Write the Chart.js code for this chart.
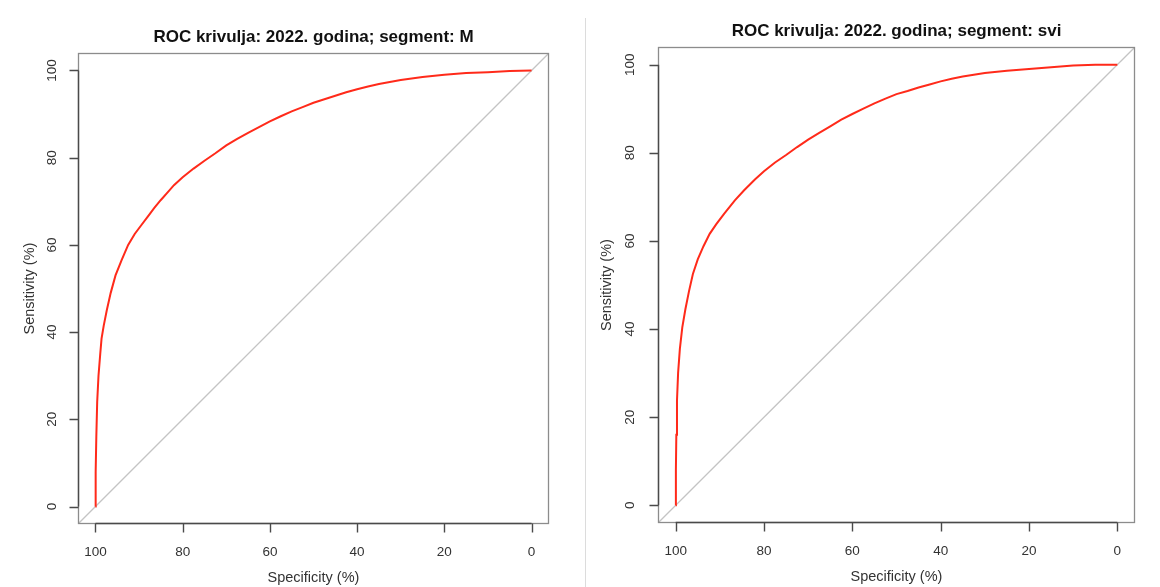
<!DOCTYPE html>
<html>
<head>
<meta charset="utf-8">
<script src="https://cdn.jsdelivr.net/npm/chart.js@4.4.1/dist/chart.umd.min.js"></script>
<style>
  html, body { margin: 0; padding: 0; background: #fff; }
  #wrap { position: relative; width: 1160px; height: 587px; overflow: hidden; }
  canvas { position: absolute; top: 0; }
  #sep { position: absolute; left: 585px; top: 18px; width: 1px; height: 569px; background: #dcdcdc; }
</style>
</head>
<body>
<div id="wrap">
  <canvas id="chartM" width="585" height="587" style="left:0"></canvas>
  <div id="sep"></div>
  <canvas id="chartAll" width="573" height="587" style="left:587px"></canvas>
</div>
<script>
// --- DATA ---
const titleM = 'ROC krivulja: 2022. godina; segment: M';
const titleAll = 'ROC krivulja: 2022. godina; segment: svi';
const xTitle = 'Specificity (%)';
const yTitle = 'Sensitivity (%)';
const tickVals = [0, 20, 40, 60, 80, 100];

// segment M
const specM = [100, 99.95, 99.8, 99.6, 99.3, 98.9, 98.6, 98.1, 97.4, 96.5, 95.4, 94.0, 92.5, 91.0, 89.5, 88.0, 86.5, 85.0, 83.5, 82.0,
  80.0, 77.5, 75.0, 72.5, 70.0, 67.5, 65.0, 62.5, 60.0, 57.5, 55.0, 52.5, 50.0, 47.5, 45.0, 42.5, 40.0, 37.5, 35.0, 30.0,
  25.0, 20.0, 15.0, 10.0, 5.0, 0];
const sensM = [0, 8, 16, 24, 30, 35, 38.5, 41.5, 45, 49, 53, 56.5, 60, 62.5, 64.5, 66.5, 68.5, 70.3, 72, 73.7,
  75.5, 77.5, 79.3, 81, 82.8, 84.3, 85.7, 87, 88.3, 89.5, 90.6, 91.6, 92.6, 93.4, 94.2, 95, 95.7, 96.3, 96.9, 97.8,
  98.5, 99, 99.4, 99.6, 99.9, 100];

// segment svi
const specAll = [100, 99.95, 99.85, 99.7, 99.45, 99.05, 98.5, 97.8, 97.0, 96.1, 95.0, 93.7, 92.3, 90.8, 89.0, 86.6, 84.5, 82.0,
  80.0, 77.5, 75.0, 72.5, 70.0, 67.5, 65.0, 62.5, 60.0, 57.5, 55.0, 52.5, 50.0, 47.5, 45.0, 42.5, 40.0, 37.5, 35.0,
  30.0, 25.0, 20.0, 15.0, 10.0, 5.0, 0];
const sensAll = [0, 8, 16, 23.8, 30, 35.5, 40.4, 44.5, 48.5, 52.5, 55.8, 58.8, 61.6, 63.8, 66.2, 69.2, 71.5, 74,
  75.8, 77.8, 79.5, 81.3, 83, 84.5, 86, 87.5, 88.8, 90, 91.2, 92.3, 93.3, 94, 94.8, 95.5, 96.2, 96.8, 97.3,
  98.1, 98.6, 99, 99.4, 99.8, 100, 100];

// chance line, corner to corner of the plot region
const diagSpec = [104, -4];
const diagSens = [-4, 104];

const FONT = '"Liberation Sans", Arial, sans-serif';

// draws the R-style box, axes, ticks and labels
const rAxes = {
  id: 'rAxes',
  afterDraw(chart, args, opts) {
    const ctx = chart.ctx;
    const a = chart.chartArea;
    const sx = chart.scales.x, sy = chart.scales.y;
    ctx.save();

    // box
    ctx.strokeStyle = '#8c8c8c';
    ctx.lineWidth = 1.3;
    ctx.strokeRect(a.left + 0.5, a.top + 0.5, a.right - a.left - 1, a.bottom - a.top - 1);

    // axis lines + ticks
    ctx.strokeStyle = '#4a4a4a';
    ctx.lineWidth = 1.4;
    const bx = a.left + 0.5, by = Math.round(a.bottom) - 0.5;
    ctx.beginPath();
    ctx.moveTo(bx, sy.getPixelForValue(0));
    ctx.lineTo(bx, sy.getPixelForValue(100));
    ctx.moveTo(sx.getPixelForValue(100), by);
    ctx.lineTo(sx.getPixelForValue(0), by);
    tickVals.forEach(v => {
      const py = Math.round(sy.getPixelForValue(v)) + 0.5;
      ctx.moveTo(bx, py);
      ctx.lineTo(bx - 9, py);
      const px = Math.round(sx.getPixelForValue(v)) + 0.5;
      ctx.moveTo(px, by);
      ctx.lineTo(px, by + 9);
    });
    ctx.stroke();

    // tick labels
    ctx.fillStyle = '#333';
    ctx.font = '13.5px ' + FONT;
    ctx.textAlign = 'center';
    ctx.textBaseline = 'middle';
    tickVals.forEach(v => {
      ctx.fillText(String(v), sx.getPixelForValue(v), a.bottom + 28);
      ctx.save();
      ctx.translate(a.left - opts.yLabelGap, sy.getPixelForValue(v));
      ctx.rotate(-Math.PI / 2);
      ctx.fillText(String(v), 0, 0);
      ctx.restore();
    });

    // axis titles
    ctx.font = '14.5px ' + FONT;
    ctx.fillText(xTitle, (a.left + a.right) / 2, a.bottom + 54);
    ctx.save();
    ctx.translate(a.left - opts.yTitleGap, (a.top + a.bottom) / 2);
    ctx.rotate(-Math.PI / 2);
    ctx.fillText(yTitle, 0, 0);
    ctx.restore();

    // main title
    ctx.fillStyle = '#111';
    ctx.font = 'bold 17px ' + FONT;
    ctx.fillText(opts.title, (a.left + a.right) / 2, a.top - 16);

    ctx.restore();
  }
};

function makeRoc(canvasId, spec, sens, title, pad, yLabelGap, yTitleGap) {
  const curve = spec.map((s, i) => ({ x: s, y: sens[i] }));
  const diag = diagSpec.map((s, i) => ({ x: s, y: diagSens[i] }));
  return new Chart(document.getElementById(canvasId), {
    type: 'scatter',
    data: {
      datasets: [
        {
          data: curve,
          showLine: true,
          borderColor: '#ff2a1a',
          borderWidth: 2,
          pointRadius: 0,
          tension: 0
        },
        {
          data: diag,
          showLine: true,
          borderColor: '#c4c4c4',
          borderWidth: 1.3,
          pointRadius: 0
        }
      ]
    },
    options: {
      responsive: false,
      animation: false,
      devicePixelRatio: 1,
      layout: { padding: pad },
      scales: {
        x: { type: 'linear', reverse: true, min: -4, max: 104, display: false },
        y: { type: 'linear', min: -4, max: 104, display: false }
      },
      plugins: {
        legend: { display: false },
        tooltip: { enabled: false },
        rAxes: { title: title, yLabelGap: yLabelGap, yTitleGap: yTitleGap }
      }
    },
    plugins: [rAxes]
  });
}

makeRoc('chartM', specM, sensM, titleM, { left: 78, right: 36, top: 53, bottom: 63 }, 26, 48);
makeRoc('chartAll', specAll, sensAll, titleAll, { left: 71, right: 25, top: 47, bottom: 64 }, 28, 51);
</script>
</body>
</html>
